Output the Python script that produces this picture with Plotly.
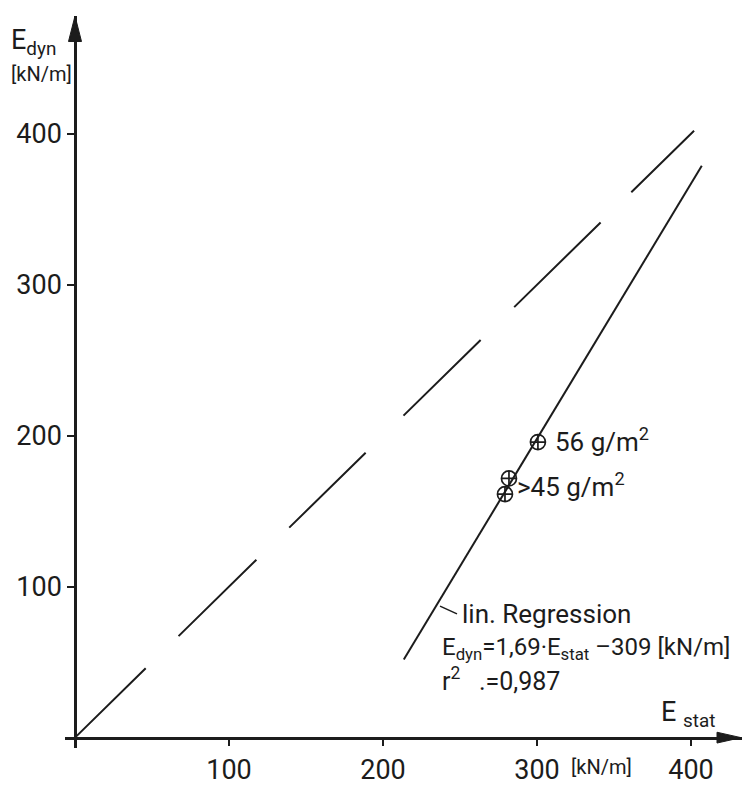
import plotly.graph_objects as go

# ---------------- data ----------------
diag_x = [0, 402]           # 1:1 line E_dyn = E_stat
diag_y = [0, 402]
reg_slope = 1.69
reg_intercept = -309
reg_x = [213.5, 407]
reg_y = [reg_slope * v + reg_intercept for v in reg_x]
pts_x = [300.6, 281.8, 279.2]
pts_y = [195.8, 171.7, 161.3]
tick_vals = [100, 200, 300, 400]
tick_text = ["100", "200", "300", "400"]

# ---------------- geometry ----------------
W, H = 742, 786
ML, MR, MT, MB = 65, 0, 16, 0
SX, SY = 1.54, 1.5375          # px per data unit
X0PX, Y0PX = 75, 751           # pixel of data origin
YBOT = 762                     # bottom end of the y axis line
PW, PH = W - ML - MR, H - MT - MB

xr = [-(X0PX - ML) / SX, (W - MR - X0PX) / SX]
yr = [-(YBOT - Y0PX) / SY, (Y0PX - MT) / SY]


def dx(px):
    return (px - X0PX) / SX


def dy(py):
    return (Y0PX - py) / SY


def pxp(px):
    return (px - ML) / PW


def pyp(py):
    return (H - MB - py) / PH


FONT = "Roboto, 'DejaVu Sans', sans-serif"
INK = "#1c1c1c"

fig = go.Figure()

fig.add_trace(go.Scatter(
    x=diag_x, y=diag_y, mode="lines",
    line=dict(color=INK, width=2,
              dash="99px,46px,109px,46px,107px,53px,108px,47px,121px,43px,94px,50px"),
    hoverinfo="skip", showlegend=False))

fig.add_trace(go.Scatter(
    x=reg_x, y=reg_y, mode="lines",
    line=dict(color=INK, width=2),
    hoverinfo="skip", showlegend=False))

fig.add_trace(go.Scatter(
    x=pts_x, y=pts_y, mode="markers",
    marker=dict(symbol="circle-cross-open", size=15, color=INK,
                line=dict(width=1.7, color=INK)),
    hoverinfo="skip", showlegend=False, cliponaxis=False))

# arrow heads
fig.add_shape(type="path", xref="x", yref="y",
              path=f"M {dx(75)},{dy(16)} L {dx(68.5)},{dy(42)} L {dx(81.5)},{dy(42)} Z",
              fillcolor=INK, line=dict(color=INK, width=1))
fig.add_shape(type="path", xref="x", yref="y",
              path=f"M {dx(741)},{dy(751)} L {dx(717)},{dy(745.5)} L {dx(717)},{dy(756.5)} Z",
              fillcolor=INK, line=dict(color=INK, width=1))
# leader for regression label
fig.add_shape(type="line", xref="x", yref="y",
              x0=dx(440), y0=dy(617), x1=dx(457), y1=dy(625),
              line=dict(color=INK, width=1.5))


def ann(text, px, py, size):
    fig.add_annotation(text=text, x=pxp(px), y=pyp(py), xref="paper", yref="paper",
                       xanchor="left", yanchor="middle", showarrow=False,
                       font=dict(family=FONT, size=size, color=INK))


ann("56 g/m<sup>2</sup>", 553, 448, 26)
ann("&gt;45 g/m<sup>2</sup>", 515, 494, 26)
ann("lin. Regression", 460, 625, 26)
ann("E<sub>dyn</sub>=1,69·E<sub>stat</sub> –309 [kN/m]", 440, 660, 24)
ann("r<sup>2</sup>&nbsp;&nbsp;&nbsp;.=0,987", 440, 692, 25)
ann("E <sub>stat</sub>", 659, 727, 27)
ann("E<sub>dyn</sub>", 9, 42, 27)
ann("[kN/m]", 9, 75, 20)
ann("[kN/m]", 569, 781, 20)

axis_common = dict(
    showgrid=False, zeroline=False, showline=True, linecolor=INK, linewidth=2.5,
    ticks="outside", ticklen=7, tickwidth=1.5, tickcolor=INK,
    tickvals=tick_vals, ticktext=tick_text,
    tickfont=dict(family=FONT, size=27, color=INK),
    anchor="free", fixedrange=True,
)

fig.update_layout(
    width=W, height=H,
    margin=dict(l=ML, r=MR, t=MT, b=MB),
    paper_bgcolor="white", plot_bgcolor="white",
    xaxis=dict(range=xr, position=(H - MB - Y0PX) / PH, **axis_common),
    yaxis=dict(range=yr, position=(X0PX - ML) / PW,
               domain=[(H - MB - YBOT) / PH, 1], **axis_common),
    showlegend=False,
)

fig.write_html("out.html")
